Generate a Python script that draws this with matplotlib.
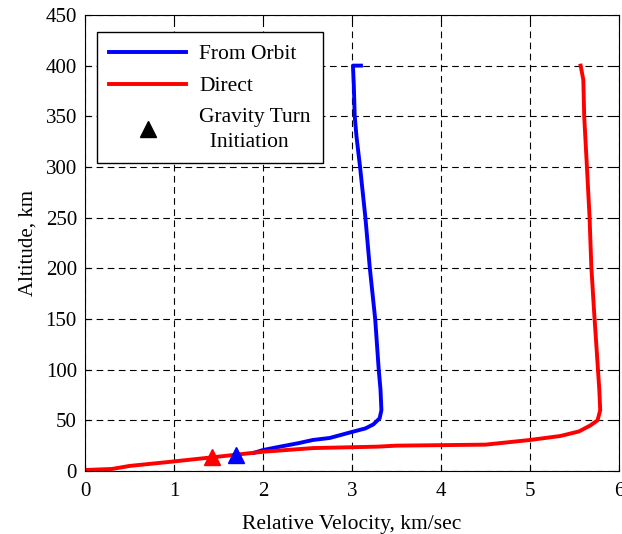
import numpy as np
import matplotlib.pyplot as plt

plt.rcParams['font.family'] = ['Liberation Serif', 'DejaVu Serif']

# From Orbit trajectory (velocity km/s, altitude km)
orbit_v = [1.90, 2.00, 2.19, 2.40, 2.56, 2.75, 3.01, 3.15, 3.24, 3.31, 3.33, 3.32,
           3.30, 3.26, 3.20, 3.15, 3.09, 3.05, 3.03, 3.02, 3.01, 3.10]
orbit_h = [18, 20.7, 24, 27.5, 30.6, 32.6, 38.8, 42, 46, 52, 60, 80,
           100, 150, 200, 250, 300, 330, 350, 380, 400, 400]

# Direct trajectory
direct_v = [0.0, 0.3, 0.5, 0.95, 1.44, 2.0, 2.56, 3.28, 3.5, 4.5, 5.0, 5.34, 5.55,
            5.68, 5.76, 5.79, 5.78, 5.75, 5.72, 5.69, 5.67, 5.64, 5.61, 5.60, 5.57]
direct_h = [1, 2, 5, 9, 13.6, 19, 22.6, 24, 25, 26, 30.6, 34.5, 39,
            45, 50, 60, 80, 119.5, 159, 201.8, 251, 301, 350, 386, 400]

# Gravity turn initiation points
turn_v = [1.70, 1.42]
turn_h = [16, 14]
turn_c = ['blue', 'red']

fig, ax = plt.subplots(figsize=(6.22, 5.34), dpi=100)
fig.subplots_adjust(left=0.137, right=0.995, bottom=0.118, top=0.972)

ax.plot(orbit_v, orbit_h, color='blue', linewidth=2.8, label='From Orbit')
ax.plot(direct_v, direct_h, color='red', linewidth=2.8, label='Direct')
for v, h, c in zip(turn_v, turn_h, turn_c):
    ax.plot(v, h, marker='^', color=c, markersize=12, linestyle='none', zorder=5)
ax.plot([], [], marker='^', color='black', markersize=12, linestyle='none',
        label='Gravity Turn\n  Initiation')

ax.set_xlim(0, 6)
ax.set_ylim(0, 450)
ax.set_xticks(range(0, 7))
ax.set_yticks(range(0, 451, 50))
ax.tick_params(direction='in', labelsize=15, top=True, right=True, length=4)
ax.tick_params(axis='x', pad=8)
ax.tick_params(axis='y', pad=6)
ax.grid(True, color='black', linestyle=(0, (6, 4)), linewidth=0.8)
ax.set_xlabel('Relative Velocity, km/sec', fontsize=15.5, labelpad=10)
ax.set_ylabel('Altitude, km', fontsize=15, labelpad=6)

leg = ax.legend(loc='upper left', fontsize=15.5, fancybox=False, framealpha=1,
                edgecolor='black', handlelength=3.6, handletextpad=0.6,
                borderpad=0.55, labelspacing=0.55, borderaxespad=0,
                bbox_to_anchor=(0.022, 0.962))
leg.get_texts()[2].set_linespacing(1.4)
leg.get_frame().set_linewidth(1.0)

plt.savefig('out.png', dpi=100)
